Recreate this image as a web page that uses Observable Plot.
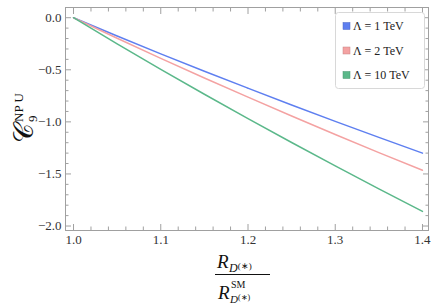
<!DOCTYPE html>
<html>
<head>
<meta charset="utf-8">
<script src="https://cdn.jsdelivr.net/npm/d3@7"></script>
<script src="https://cdn.jsdelivr.net/npm/@observablehq/plot@0.6"></script>
<style>
  html, body { margin: 0; padding: 0; background: #fff; }
  #chart { width: 436px; height: 305px; }
  #chart svg text { font-family: "Liberation Serif", serif; }
  #chart svg g.lg text { font-family: "Liberation Serif"; }
</style>
</head>
<body>
<div id="chart"></div>
<script>
// ---- data ----
const ratio = [1.0, 1.05, 1.1, 1.15, 1.2, 1.25, 1.3, 1.35, 1.4];
const c9_L1 = [0, -0.175, -0.347, -0.514, -0.677, -0.838, -0.995, -1.149, -1.30];
const c9_L2 = [0, -0.197, -0.390, -0.579, -0.763, -0.944, -1.121, -1.295, -1.465];
const c9_L10 = [0, -0.251, -0.496, -0.735, -0.969, -1.198, -1.423, -1.644, -1.86];
const seriesNames = ["Λ = 1 TeV", "Λ = 2 TeV", "Λ = 10 TeV"];
const seriesVals = [c9_L1, c9_L2, c9_L10];
const colors = ["#5e7ff0", "#f4a2a2", "#5bb88a"];
const xMajor = [1.0, 1.1, 1.2, 1.3, 1.4];
const xMinor = d3.range(0, 21).map(i => +(1.0 + i * 0.02).toFixed(2)).filter(v => !xMajor.includes(v));
const yMajor = [0.0, -0.5, -1.0, -1.5, -2.0];
const yMinor = d3.range(0, 21).map(i => +(-i * 0.1).toFixed(1)).filter(v => !yMajor.includes(v));

const rows = [];
seriesNames.forEach((name, s) => ratio.forEach((r, i) => rows.push({r, c: seriesVals[s][i], name})));

const frameColor = "#a0a0a0";

const chart = Plot.plot({
  width: 436,
  height: 305,
  marginLeft: 65,
  marginRight: 8,
  marginTop: 7,
  marginBottom: 75,
  style: {fontFamily: "Liberation Serif, serif", fontSize: "12px", color: "#222", background: "#fff"},
  x: {domain: [0.9908, 1.4069]},
  y: {domain: [-2.043, 0.098]},
  color: {domain: seriesNames, range: colors},
  marks: [
    Plot.frame({stroke: frameColor}),
    // inward ticks on all four sides
    Plot.axisX({anchor: "bottom", ticks: xMajor, tickSize: -6, text: null, stroke: frameColor, label: null}),
    Plot.axisX({anchor: "bottom", ticks: xMinor, tickSize: -3.5, text: null, stroke: frameColor, label: null}),
    Plot.axisX({anchor: "top", ticks: xMajor, tickSize: -6, text: null, stroke: frameColor, label: null}),
    Plot.axisX({anchor: "top", ticks: xMinor, tickSize: -3.5, text: null, stroke: frameColor, label: null}),
    Plot.axisY({anchor: "left", ticks: yMajor, tickSize: -6, text: null, stroke: frameColor, label: null}),
    Plot.axisY({anchor: "left", ticks: yMinor, tickSize: -3.5, text: null, stroke: frameColor, label: null}),
    Plot.axisY({anchor: "right", ticks: yMajor, tickSize: -6, text: null, stroke: frameColor, label: null}),
    Plot.axisY({anchor: "right", ticks: yMinor, tickSize: -3.5, text: null, stroke: frameColor, label: null}),
    // labels
    Plot.axisX({anchor: "bottom", ticks: xMajor, tickSize: 0, tickPadding: 4, tickFormat: d3.format(".1f"), label: null, fontSize: 13, fill: "#333"}),
    Plot.axisY({anchor: "left", ticks: yMajor, tickSize: 0, tickPadding: 4, tickFormat: d3.format(".1f"), label: null, fontSize: 13, fill: "#333"}),
    Plot.line(rows, {x: "r", y: "c", z: "name", stroke: "name", strokeWidth: 1.5, curve: "monotone-x"})
  ]
});

const svg = d3.select(chart);

// Y-axis label: calligraphic C_9^{NP U}
const yl = svg.append("g").attr("transform", "translate(33,143) rotate(-90)")
  .attr("fill", "#111").attr("text-anchor", "start");
yl.append("text").attr("x", 0).attr("y", 0).attr("font-size", 27).text("𝒞");
yl.append("text").attr("x", 21).attr("y", -10).attr("font-size", 13).text("NP U");
yl.append("text").attr("x", 21).attr("y", 4).attr("font-size", 13).text("9");

// X-axis label: fraction R_{D(*)} / R^{SM}_{D(*)}
const xl = svg.append("g").attr("fill", "#111").attr("text-anchor", "start");
xl.append("text").attr("x", 217).attr("y", 268).attr("font-size", 19).attr("font-style", "italic").text("R");
xl.append("text").attr("x", 229).attr("y", 272).attr("font-size", 12).attr("font-style", "italic").text("D")
  .append("tspan").attr("font-style", "normal").attr("font-size", 9).attr("dy", -3).text("(∗)");
xl.append("line").attr("x1", 215).attr("x2", 270).attr("y1", 274.5).attr("y2", 274.5).attr("stroke", "#111").attr("stroke-width", 1);
xl.append("text").attr("x", 218).attr("y", 299).attr("font-size", 19).attr("font-style", "italic").text("R");
xl.append("text").attr("x", 231).attr("y", 288).attr("font-size", 10).text("SM");
xl.append("text").attr("x", 230).attr("y", 303).attr("font-size", 11).attr("font-style", "italic").text("D")
  .append("tspan").attr("font-style", "normal").attr("font-size", 8).attr("dy", -3).text("(∗)");

// Legend
const lg = svg.append("g").attr("class", "lg").attr("text-anchor", "start");
lg.append("rect").attr("x", 335.5).attr("y", 12.5).attr("width", 89).attr("height", 76).attr("rx", 3)
  .attr("fill", "#fff").attr("stroke", "#d8d8d8");
seriesNames.forEach((name, i) => {
  const cy = 26 + i * 24.5;
  lg.append("rect").attr("x", 343).attr("y", cy - 3.5).attr("width", 7).attr("height", 7)
    .attr("fill", colors[i]).attr("stroke", d3.color(colors[i]).darker(0.6)).attr("stroke-width", 0.5);
  lg.append("text").attr("x", 353).attr("y", cy + 4).attr("font-size", 12).attr("fill", "#222").text(name);
});

document.getElementById("chart").appendChild(chart);
</script>
</body>
</html>
